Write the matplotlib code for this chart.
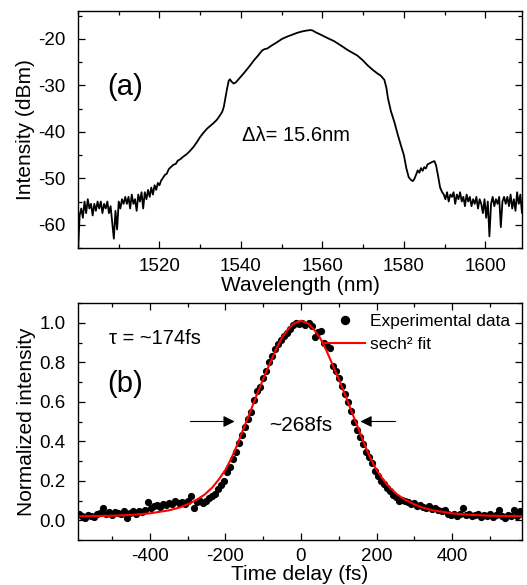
import numpy as np
import matplotlib
matplotlib.use('Agg')
import matplotlib.pyplot as plt
from matplotlib.ticker import MultipleLocator

plt.rcParams['font.family'] = ['Liberation Sans', 'DejaVu Sans']
plt.rcParams['axes.unicode_minus'] = False

# ---- (a) spectrum ----
# noisy floor on the left, sampled every 0.4 nm
wl_left = 1500 + 0.4 * np.arange(53)
db_left = [-66.0, -58.0, -56.5, -58.5, -55.0, -57.5, -54.5, -56.5, -55.5, -58.0,
           -55.5, -57.0, -55.0, -56.5, -55.0, -57.5, -55.5, -56.5, -55.0, -57.5,
           -56.0, -59.5, -63.0, -57.0, -61.0, -55.0, -56.5, -54.5, -55.5, -54.0,
           -55.5, -54.0, -56.5, -53.5, -55.5, -54.5, -57.0, -53.5, -55.0, -53.0,
           -56.5, -53.0, -54.5, -52.5, -54.0, -52.0, -53.5, -51.5, -52.5, -51.0,
           -51.5, -50.5, -50.0]

# main lobe
wl_mid = [1521.3, 1521.8, 1522.3, 1522.8, 1523.4, 1524.0, 1524.5, 1525.1, 1525.9, 1526.7,
          1527.5, 1528.4, 1529.2, 1530.0, 1530.8, 1531.7, 1532.5, 1533.3, 1534.1, 1534.9,
          1535.4, 1535.8, 1536.2, 1536.6, 1537.0, 1537.3, 1537.7, 1538.2, 1538.7, 1539.2,
          1540.0, 1540.7, 1542.0, 1543.2, 1544.2, 1545.2, 1545.8, 1546.4, 1547.6, 1548.9,
          1550.1, 1551.4, 1552.6, 1553.8, 1555.0, 1556.2, 1557.1, 1557.6, 1558.4, 1559.6,
          1561.2, 1562.9, 1564.5, 1566.2, 1567.4, 1568.6, 1569.9, 1571.1, 1572.4, 1573.6,
          1574.3, 1575.2, 1575.7, 1576.1, 1576.8, 1577.7, 1578.5, 1579.3, 1580.0, 1580.6,
          1581.2, 1581.8, 1582.2, 1582.6, 1583.0, 1583.4, 1583.8, 1584.2, 1584.6, 1585.0,
          1585.4, 1585.8, 1586.3, 1586.9, 1587.5, 1587.9, 1588.4, 1588.9, 1589.4]
db_mid = [-49.3, -49.0, -48.0, -47.6, -47.1, -46.9, -46.2, -45.9, -45.3, -44.8,
          -44.1, -43.2, -42.2, -41.1, -40.2, -39.3, -38.7, -38.1, -37.4, -36.4,
          -35.7, -34.6, -32.6, -30.7, -29.0, -28.7, -29.2, -29.6, -29.4, -28.9,
          -28.1, -27.4, -26.0, -24.6, -23.6, -22.5, -22.2, -22.1, -21.4, -20.7,
          -20.0, -19.5, -19.1, -18.7, -18.4, -18.2, -18.1, -18.2, -18.6, -19.1,
          -19.8, -20.5, -21.4, -22.4, -23.0, -23.6, -24.6, -25.7, -26.7, -27.5,
          -27.9, -28.8, -30.5, -32.8, -35.5, -38.0, -40.6, -43.0, -45.0, -47.8,
          -49.8, -50.4, -50.6, -50.1, -49.2, -48.3, -48.8, -47.8, -48.4, -47.6,
          -47.9, -47.0, -46.8, -46.5, -46.3, -47.2, -49.5, -52.0, -53.0]

# noisy floor on the right
wl_right = 1589.8 + 0.4 * np.arange(51)
db_right = [-53.5, -54.5, -53.0, -55.0, -53.5, -54.0, -53.0, -55.5, -53.5, -54.5,
            -53.0, -55.0, -54.0, -56.0, -53.5, -55.0, -54.0, -56.0, -54.5, -55.5,
            -54.0, -56.5, -54.5, -55.5, -57.5, -54.5, -58.5, -55.0, -62.5, -55.5,
            -54.0, -56.0, -54.5, -55.5, -54.0, -60.5, -55.0, -54.0, -55.5, -54.0,
            -56.0, -53.5, -56.5, -54.5, -57.0, -53.0, -55.5, -53.5, -57.5, -54.0,
            -56.0]

wavelength = np.concatenate([wl_left, wl_mid, wl_right])
intensity_db = np.concatenate([db_left, db_mid, db_right])
wl_ticks = [1520, 1540, 1560, 1580, 1600]

# ---- (b) autocorrelation ----
delay = -588 + 8 * np.arange(148)
ac_data = [0.03, 0.02, 0.01, 0.025, 0.02, 0.015, 0.03, 0.035, 0.06, 0.03,
           0.04, 0.025, 0.04, 0.035, 0.03, 0.045, 0.01, 0.035, 0.045, 0.03,
           0.045, 0.04, 0.05, 0.09, 0.06, 0.07, 0.075, 0.065, 0.08, 0.075,
           0.085, 0.08, 0.095, 0.085, 0.09, 0.08, 0.095, 0.125, 0.06, 0.09,
           0.095, 0.085, 0.1, 0.115, 0.125, 0.135, 0.16, 0.18, 0.2, 0.245,
           0.27, 0.31, 0.345, 0.39, 0.43, 0.47, 0.515, 0.55, 0.61, 0.655,
           0.675, 0.72, 0.755, 0.8, 0.83, 0.865, 0.89, 0.915, 0.935, 0.95,
           0.97, 0.99, 1.0, 0.995, 1.0, 0.99, 1.0, 0.985, 0.93, 0.955,
           0.96, 0.9, 0.88, 0.87, 0.78, 0.755, 0.72, 0.68, 0.64, 0.6,
           0.555, 0.5, 0.455, 0.42, 0.385, 0.345, 0.32, 0.29, 0.25, 0.225,
           0.2, 0.185, 0.165, 0.15, 0.13, 0.12, 0.1, 0.105, 0.095, 0.09,
           0.08, 0.085, 0.07, 0.075, 0.065, 0.06, 0.07, 0.055, 0.06, 0.05,
           0.045, 0.05, 0.03, 0.025, 0.03, 0.02, 0.03, 0.06, 0.025, 0.03,
           0.02, 0.025, 0.03, 0.015, 0.025, 0.02, 0.03, 0.015, 0.025, 0.05,
           0.02, 0.01, 0.025, 0.02, 0.05, 0.02, 0.045, 0.03]

fit_t = [-590, -500, -450, -400, -350, -320, -295, -275, -255, -235, -218, -200,
         -185, -170, -158, -145, -132, -119, -100, -82, -65, -50, -35, -20, 0,
         20, 35, 50, 65, 82, 100, 119, 132, 145, 158, 170, 185, 200, 218, 235,
         255, 275, 295, 320, 350, 400, 450, 500, 590]
fit_v = [0.02, 0.023, 0.027, 0.035, 0.05, 0.065, 0.085, 0.105, 0.13, 0.165, 0.205, 0.255,
         0.31, 0.375, 0.435, 0.498, 0.56, 0.625, 0.715, 0.795, 0.87, 0.925, 0.965, 0.995, 1.01,
         0.995, 0.965, 0.925, 0.87, 0.795, 0.715, 0.625, 0.56, 0.498, 0.435, 0.375, 0.31, 0.255, 0.205, 0.165,
         0.13, 0.105, 0.085, 0.065, 0.05, 0.035, 0.027, 0.023, 0.02]

fig = plt.figure(figsize=(5.27, 5.85), dpi=100)
ax1 = fig.add_axes([78 / 527, 1 - 248 / 585, 444 / 527, 237 / 585])
ax2 = fig.add_axes([78 / 527, 1 - 540 / 585, 444 / 527, 237 / 585])

for ax in (ax1, ax2):
    ax.tick_params(which='both', direction='in', top=True, right=True, labelsize=13.5)
    ax.tick_params(which='major', length=5, width=0.9)
    ax.tick_params(which='minor', length=3, width=0.9)
    for s in ax.spines.values():
        s.set_linewidth(1.0)

ax1.plot(wavelength, intensity_db, color='black', lw=1.3)
ax1.set_xlim(1500, 1609)
ax1.set_ylim(-65, -14)
ax1.set_xticks(wl_ticks)
ax1.xaxis.set_minor_locator(MultipleLocator(10))
ax1.yaxis.set_major_locator(MultipleLocator(10))
ax1.yaxis.set_minor_locator(MultipleLocator(5))
ax1.tick_params(axis='y', pad=9)
ax1.tick_params(axis='x', pad=7)
ax1.set_xlabel('Wavelength (nm)', fontsize=15, labelpad=1)
ax1.set_ylabel('Intensity (dBm)', fontsize=15, labelpad=2)
ax1.text(0.065, 0.68, '(a)', transform=ax1.transAxes, fontsize=21, va='center')
ax1.text(0.37, 0.475, 'Δλ= 15.6nm', transform=ax1.transAxes, fontsize=14.5, va='center')

ax2.plot(delay, ac_data, 'o', color='black', markersize=5.2, markeredgewidth=0,
         label='Experimental data')
ax2.plot(fit_t, fit_v, color='red', lw=1.5, label='sech² fit')
ax2.set_xlim(-590, 585)
ax2.set_ylim(-0.1, 1.1)
ax2.xaxis.set_major_locator(MultipleLocator(200))
ax2.xaxis.set_minor_locator(MultipleLocator(100))
ax2.yaxis.set_major_locator(MultipleLocator(0.2))
ax2.yaxis.set_minor_locator(MultipleLocator(0.1))
ax2.yaxis.set_major_formatter(plt.FormatStrFormatter('%.1f'))
ax2.tick_params(axis='y', pad=9)
ax2.tick_params(axis='x', pad=6)
ax2.set_xlabel('Time delay (fs)', fontsize=15, labelpad=0)
ax2.set_ylabel('Normalized intensity', fontsize=15, labelpad=2)
ax2.text(0.07, 0.85, 'τ = ~174fs', transform=ax2.transAxes, fontsize=14.5, va='center')
ax2.text(0.065, 0.66, '(b)', transform=ax2.transAxes, fontsize=21, va='center')
ax2.text(0, 0.48, '~268fs', fontsize=15, ha='center', va='center')
arrow = dict(arrowstyle='-|>', color='black', lw=0.8, mutation_scale=17)
ax2.annotate('', xy=(-168, 0.5), xytext=(-300, 0.5), arrowprops=arrow)
ax2.annotate('', xy=(150, 0.5), xytext=(258, 0.5), arrowprops=arrow)
ax2.legend(loc='upper left', bbox_to_anchor=(0.556, 0.955), frameon=False,
           fontsize=12.5, borderpad=0, borderaxespad=0, handlelength=2.3,
           handletextpad=0.3, labelspacing=0.45, markerscale=1.3)

fig.savefig('out.png', dpi=100)
